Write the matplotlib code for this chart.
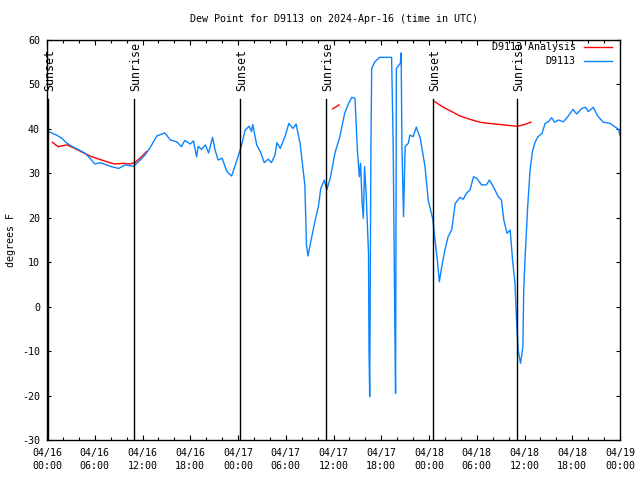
import numpy as np
import matplotlib
matplotlib.use("Agg")
import matplotlib.pyplot as plt
from matplotlib.ticker import FixedLocator, MultipleLocator
from matplotlib.transforms import offset_copy

# ---- data (x = hours since 2024-04-16 00:00 UTC) ----
blue_h = [0.0, 0.17, 1.2, 1.85, 2.5, 3.1, 3.9, 4.8, 5.4, 6.0, 6.7, 7.5, 8.1, 9.0, 9.8,
          10.85, 11.5, 12.3, 12.9, 13.8, 14.8, 15.5, 16.3, 16.9, 17.3, 18.0, 18.4, 18.8,
          19.0, 19.4, 19.9, 20.3, 20.8, 21.1, 21.5, 22.0, 22.6, 23.2, 23.8, 24.4, 24.9,
          25.4, 25.7, 25.85, 26.35, 26.8, 27.3, 27.8, 28.2, 28.65, 28.9, 29.3, 29.9, 30.4,
          30.9, 31.3, 31.8, 32.4, 32.6, 32.8, 33.1, 33.7, 34.1, 34.4, 34.85, 35.15, 35.6,
          36.2, 36.8, 37.4, 37.9, 38.3, 38.7, 39.0, 39.25, 39.4, 39.6, 39.75, 39.9, 40.1,
          40.4, 40.46, 40.55, 40.7, 40.8, 41.2, 41.8, 43.3, 43.5, 43.7, 43.8, 43.9, 44.4,
          44.5, 44.6, 44.8, 45.0, 45.4, 45.6, 46.0, 46.4, 46.9, 47.5, 47.9, 48.5, 48.75,
          49.05, 49.3, 49.6, 50.0, 50.4, 50.85, 51.3, 51.9, 52.3, 52.7, 53.15, 53.6, 54.0,
          54.6, 55.2, 55.6, 56.2, 56.7, 57.1, 57.4, 57.8, 58.2, 58.5, 58.8, 59.0, 59.2,
          59.5, 59.8, 59.9, 60.1, 60.4, 60.7, 61.0, 61.3, 61.7, 62.2, 62.6, 63.0, 63.4,
          63.8, 64.25, 64.9, 65.5, 66.1, 66.55, 67.2, 67.7, 68.0, 68.65, 69.2, 69.9, 70.75,
          71.4, 71.8, 72.0]
blue_v = [39.6, 39.4, 38.6, 37.9, 36.8, 36.1, 35.4, 34.5, 33.4, 32.1, 32.4, 31.9, 31.5, 31.1, 31.9,
          31.6, 32.6, 34.1, 35.6, 38.4, 39.1, 37.5, 37.1, 36.0, 37.4, 36.6, 37.3, 33.7,
          36.1, 35.4, 36.4, 34.6, 38.1, 35.4, 33.0, 33.4, 30.4, 29.4, 32.6, 36.0, 39.75,
          40.6, 39.4, 41.0, 36.4, 34.9, 32.4, 33.2, 32.4, 34.1, 36.9, 35.6, 38.25, 41.25,
          40.1, 41.1, 36.75, 27.4, 13.9, 11.4, 14.25, 19.5, 22.5, 26.6, 28.5, 26.25, 29.0,
          34.7, 38.25, 43.5, 45.75, 47.1, 46.9, 35.25, 29.25, 32.25, 23.25, 19.9, 31.5, 25.5,
          12.0, -9.75, -20.25, 35.25, 53.6, 55.1, 56.1, 56.1, 36.4, -3.0, -19.5, 53.6, 54.75,
          57.1, 36.0, 20.25, 36.0, 36.75, 38.6, 38.25, 40.4, 37.9, 31.5, 24.0, 19.5, 15.0,
          10.5, 5.6, 9.0, 12.75, 15.75, 17.25, 23.25, 24.6, 24.15, 25.5, 26.25, 29.25, 28.9,
          27.4, 27.4, 28.5, 26.6, 24.75, 24.0, 19.5, 16.5, 17.25, 10.5, 5.25, -3.0, -9.75,
          -12.75, -9.0, 3.75, 12.0, 22.5, 30.75, 34.9, 36.9, 38.25, 39.0, 41.25, 41.6, 42.5,
          41.5, 42.0, 41.6, 42.9, 44.4, 43.35, 44.6, 44.85, 43.9, 44.85, 42.9, 41.5, 41.25,
          40.4, 39.9, 38.6]

red_h = [0.67, 1.4, 2.5, 3.5, 4.6, 5.6, 6.7, 7.7, 8.5, 9.6, 10.4, 11.0, 11.7, 12.5, np.nan,
         35.9, 36.7, np.nan,
         48.75, 49.8, 50.85, 51.9, 53.15, 54.4, 55.45, 56.9, 58.4, 59.1, 59.85, 60.8]
red_v = [37.0, 36.0, 36.4, 35.6, 34.6, 33.75, 33.1, 32.5, 32.1, 32.25, 32.1, 32.4, 33.4, 34.9, np.nan,
         44.5, 45.4, np.nan,
         46.1, 44.85, 43.9, 42.9, 42.15, 41.5, 41.25, 41.0, 40.7, 40.6, 40.9, 41.5]

sunset_h = [0.13, 24.25, 48.5]
sunrise_h = [10.93, 35.06, 59.06]

xtick_h = [0, 6, 12, 18, 24, 30, 36, 42, 48, 54, 60, 66, 72]
xtick_labels = ["04/16\n00:00", "04/16\n06:00", "04/16\n12:00", "04/16\n18:00",
                "04/17\n00:00", "04/17\n06:00", "04/17\n12:00", "04/17\n18:00",
                "04/18\n00:00", "04/18\n06:00", "04/18\n12:00", "04/18\n18:00",
                "04/19\n00:00"]
yticks = [-30, -20, -10, 0, 10, 20, 30, 40, 50, 60]

plt.rcParams['font.family'] = ['DejaVu Sans Mono']
FS = 7.2

fig = plt.figure(figsize=(6.4, 4.8), dpi=100)
ax = fig.add_axes([47/640, 40/480, 573/640, 400/480])

ax.plot(red_h, red_v, color='#ff0000', lw=1.0, label='D9113 Analysis')
ax.plot(blue_h, blue_v, color='#0a84ff', lw=1.0, label='D9113')

txt_tr = offset_copy(ax.transData, fig=fig, x=1.5, y=0, units='dots')
for h in sunset_h:
    ax.plot([h, h], [-30, 46.7], color='black', lw=1.0)
    ax.text(h, 48.5, 'Sunset', rotation=90, ha='center', va='bottom', fontsize=8.4,
            transform=txt_tr)
for h in sunrise_h:
    ax.plot([h, h], [-30, 46.7], color='black', lw=1.0)
    ax.text(h, 48.5, 'Sunrise', rotation=90, ha='center', va='bottom', fontsize=8.4,
            transform=txt_tr)

ax.set_xlim(0, 72)
ax.set_ylim(-30, 60)
ax.xaxis.set_major_locator(FixedLocator(xtick_h))
ax.set_xticklabels(xtick_labels, fontsize=FS, linespacing=1.45)
ax.xaxis.set_minor_locator(MultipleLocator(2))
ax.set_yticks(yticks)
ax.set_yticklabels([str(v) for v in yticks], fontsize=FS)

ax.tick_params(axis='x', which='major', direction='in', length=3.6, width=0.8,
               top=True, bottom=True, pad=5.5)
ax.tick_params(axis='x', which='minor', direction='in', length=2.0, width=0.8,
               top=True, bottom=True)
ax.tick_params(axis='y', which='major', direction='in', length=3.2, width=0.8,
               left=True, right=True, pad=5)
for s in ax.spines.values():
    s.set_linewidth(1.0)

fig.text(11/640, 0.5, 'degrees F', rotation=90, ha='center', va='center', fontsize=FS)
fig.text(333.5/640, 1 - 19/480, 'Dew Point for D9113 on 2024-Apr-16 (time in UTC)',
         ha='center', va='center', fontsize=FS)

leg = ax.legend(loc='upper right', bbox_to_anchor=(612/640, 1 - 42/480),
                bbox_transform=fig.transFigure, frameon=False, markerfirst=False,
                fontsize=FS, handlelength=2.85, handletextpad=0.8, labelspacing=0.4,
                borderpad=0, borderaxespad=0)

fig.savefig('out.png', dpi=100)
